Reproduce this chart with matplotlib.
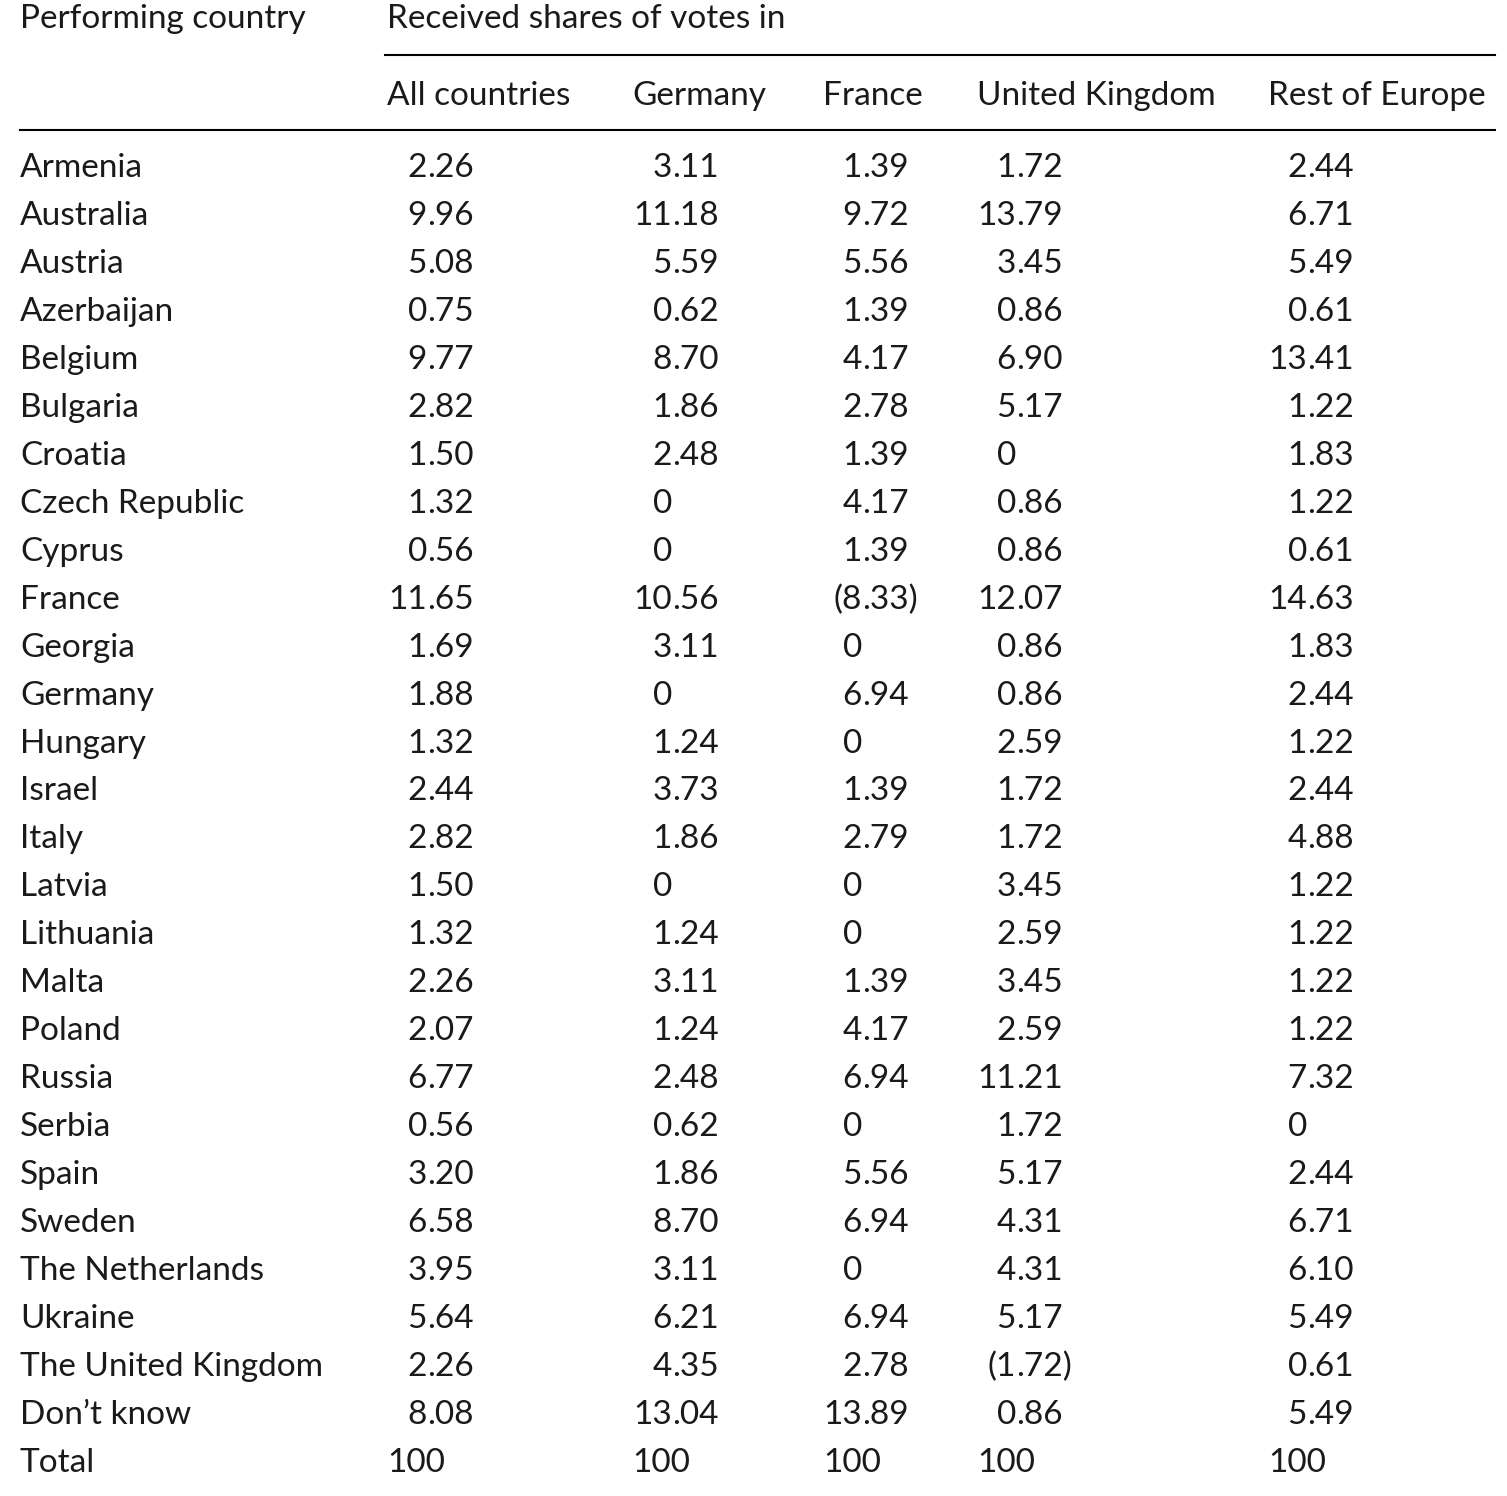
import matplotlib
matplotlib.use("Agg")
import matplotlib.pyplot as plt
from matplotlib.lines import Line2D

countries = ["Armenia","Australia","Austria","Azerbaijan","Belgium","Bulgaria","Croatia",
 "Czech Republic","Cyprus","France","Georgia","Germany","Hungary","Israel","Italy","Latvia",
 "Lithuania","Malta","Poland","Russia","Serbia","Spain","Sweden","The Netherlands","Ukraine",
 "The United Kingdom","Don\u2019t know","Total"]
all_c = ["2.26","9.96","5.08","0.75","9.77","2.82","1.50","1.32","0.56","11.65","1.69","1.88","1.32","2.44","2.82","1.50","1.32","2.26","2.07","6.77","0.56","3.20","6.58","3.95","5.64","2.26","8.08","100"]
germany = ["3.11","11.18","5.59","0.62","8.70","1.86","2.48","0","0","10.56","3.11","0","1.24","3.73","1.86","0","1.24","3.11","1.24","2.48","0.62","1.86","8.70","3.11","6.21","4.35","13.04","100"]
france = ["1.39","9.72","5.56","1.39","4.17","2.78","1.39","4.17","1.39","(8.33)","0","6.94","0","1.39","2.79","0","0","1.39","4.17","6.94","0","5.56","6.94","0","6.94","2.78","13.89","100"]
uk = ["1.72","13.79","3.45","0.86","6.90","5.17","0","0.86","0.86","12.07","0.86","0.86","2.59","1.72","1.72","3.45","2.59","3.45","2.59","11.21","1.72","5.17","4.31","4.31","5.17","(1.72)","0.86","100"]
rest = ["2.44","6.71","5.49","0.61","13.41","1.22","1.83","1.22","0.61","14.63","1.83","2.44","1.22","2.44","4.88","1.22","1.22","1.22","1.22","7.32","0","2.44","6.71","6.10","5.49","0.61","5.49","100"]
headers = ["All countries","Germany","France","United Kingdom","Rest of Europe"]

W, H = 1507, 1496
fig = plt.figure(figsize=(W/100, H/100), dpi=100)
ax = fig.add_axes([0,0,1,1])
ax.set_xlim(0, W); ax.set_ylim(H, 0); ax.axis("off")
fs = 24
fam = ["Lato", "DejaVu Sans"]
kw = dict(fontsize=fs, family=fam, color="#1a1a1a", va="center")

ax.text(20, 19, "Performing country", ha="left", **kw)
ax.text(387, 19, "Received shares of votes in", ha="left", **kw)
ax.add_line(Line2D([385, 1495], [55, 55], color="black", lw=1.5))
hx = [387, 632, 823, 977, 1268]
for x, h in zip(hx, headers):
    ax.text(x, 96, h, ha="left", **kw)
ax.add_line(Line2D([20, 1495], [130, 130], color="black", lw=1.5))

dps = [427, 672, 862, 1016, 1307]
cols = [all_c, germany, france, uk, rest]
y0, step = 168, 47.96
for i, c in enumerate(countries):
    y = y0 + i*step
    ax.text(20, y, c, ha="left", **kw)
    for dp, hxx, col in zip(dps, hx, cols):
        v = col[i]
        if "." in v:
            a, b = v.split(".")
            ax.text(dp, y, a, ha="right", **kw)
            ax.text(dp, y, "." + b, ha="left", **kw)
        elif c == "Total":
            ax.text(hxx, y, v, ha="left", **kw)
        else:
            ax.text(dp, y, v, ha="right", **kw)

fig.savefig("out.png", dpi=100)
